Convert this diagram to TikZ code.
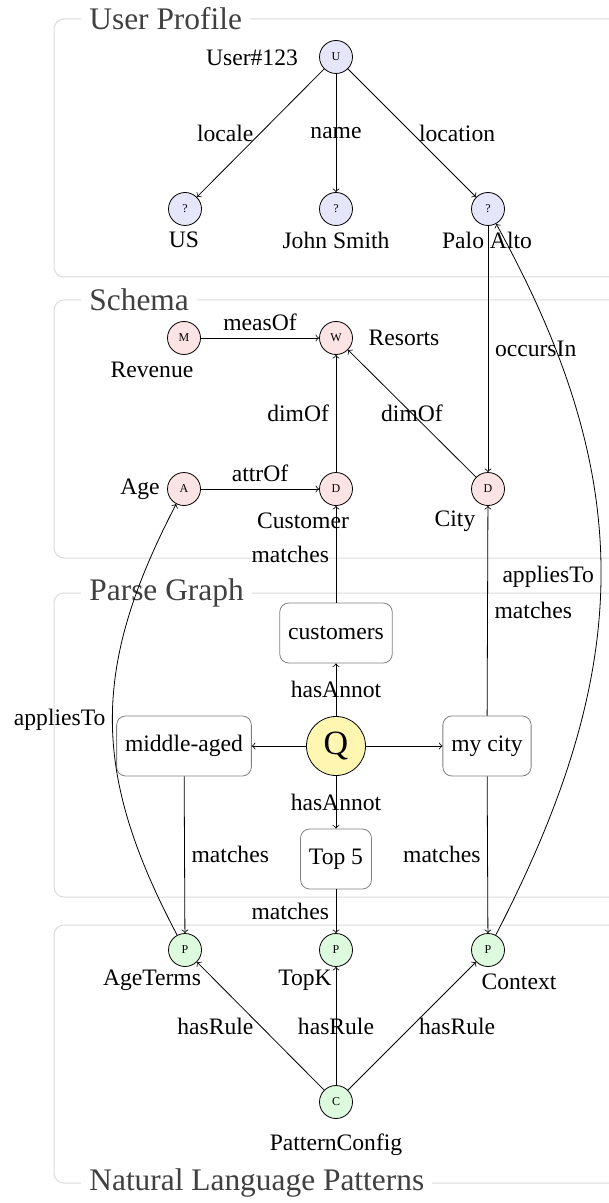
\documentclass[tikz,border=0pt]{standalone}
\usepackage{fontspec}
\setmainfont{Liberation Serif}
\definecolor{userfill}{RGB}{230,230,250}
\definecolor{schemafill}{RGB}{253,228,228}
\definecolor{patfill}{RGB}{222,250,222}
\definecolor{queryfill}{RGB}{255,246,178}
\definecolor{framegray}{RGB}{218,218,218}
\definecolor{titlegray}{RGB}{64,64,64}
\definecolor{boxgray}{RGB}{128,128,128}

\begin{document}
\begin{tikzpicture}[x=0.5pt,y=-0.5pt,
        font=\fontsize{11.8}{14}\selectfont,
        ent/.style={circle,draw,inner sep=0pt,minimum size=16.5pt,font=\fontsize{6}{7}\selectfont},
        usr/.style={ent,fill=userfill},
        sch/.style={ent,fill=schemafill},
        pat/.style={ent,fill=patfill},
        qry/.style={circle,draw,fill=queryfill,inner sep=0pt,minimum size=29.5pt,font=\fontsize{17}{20}\selectfont},
        tok/.style={draw=boxgray,rounded corners=4.5pt,inner xsep=4.2pt,minimum height=30pt},
        frame/.style={draw=framegray,line width=0.5pt,rounded corners=5pt},
        title/.style={fill=white,text=titlegray,anchor=west,inner xsep=4pt,font=\fontsize{15.7}{18}\selectfont},
        lbl/.style={inner sep=0pt}]
                \useasboundingbox (0,0) rectangle (609,1203);
                \draw[frame] (54,19) rectangle (660,277);
                \draw[frame] (54,300) rectangle (660,558);
                \draw[frame] (54,593) rectangle (660,897);
                \draw[frame] (54,925) rectangle (660,1183);
                \node[title] (tUser) at (81,19) {User Profile};
                \node[title] (tSchema) at (81,300) {Schema};
                \node[title] (tParse) at (81,593) {Parse Graph};
                \node[title] (tNLP) at (81,1183) {Natural Language Patterns};
                \node[usr] (U) at (336,57) {U};
                \node[usr] (q1) at (185,209) {?};
                \node[usr] (q2) at (336,209) {?};
                \node[usr] (q3) at (488,209) {?};
                \node[sch] (M) at (184,338) {M};
                \node[sch] (W) at (336,338) {W};
                \node[sch] (A) at (184,489) {A};
                \node[sch] (Dc) at (336,489) {D};
                \node[sch] (Dy) at (488,489) {D};
                \node[tok] (cust) at (336,633) {customers};
                \node[qry] (Q) at (336,746) {Q};
                \node[tok] (mid) at (184,746) {middle-aged};
                \node[tok] (city) at (487,746) {my city};
                \node[tok] (top) at (336,859) {Top 5};
                \node[pat] (p1) at (185,950) {P};
                \node[pat] (p2) at (336,950) {P};
                \node[pat] (p3) at (488,950) {P};
                \node[pat] (C) at (336,1102) {C};
                \node[lbl] (lUser) at (252,58) {User\#123};
                \node[lbl] (lUS) at (184,240) {US};
                \node[lbl] (lName) at (336,240) {John Smith};
                \node[lbl] (lPalo) at (487,240) {Palo Alto};
                \node[lbl] (lRev) at (152,370) {Revenue};
                \node[lbl] (lRes) at (404,338) {Resorts};
                \node[lbl] (lAge) at (140,489) {Age};
                \node[lbl] (lCust) at (303,521) {Customer};
                \node[lbl] (lCity) at (455,521) {City};
                \node[lbl] (lAgeT) at (152,980) {AgeTerms};
                \node[lbl] (lTopK) at (305,980) {TopK};
                \node[lbl] (lCtx) at (519,982) {Context};
                \node[lbl] (lConf) at (336,1145) {PatternConfig};
                \draw[->] (U) -- node[left] (eLocale) {locale} (q1);
                \draw[->] (U) -- node (eName) {name} (q2);
                \draw[->] (U) -- node[right] (eLoc) {location} (q3);
                \draw[->] (M) -- node[above] (eMeas) {measOf} (W);
                \draw[->] (A) -- node[above] (eAttr) {attrOf} (Dc);
                \draw[->] (Dc) -- node[left] (eDim1) {dimOf} (W);
                \draw[->] (Dy) -- node (eDim2) {dimOf} (W);
                \draw[->] (q3) -- node[right] (eOcc) {occursIn} (Dy);
                \draw[->] (cust) -- node[left] (eM1) {matches} (Dc);
                \draw[->] (city) -- node[right] (eM2) {matches} (Dy);
                \draw[->] (Q) -- node (eAnn1) {hasAnnot} (cust);
                \draw[->] (Q) -- node (eAnn2) {hasAnnot} (top);
                \draw[->] (Q) -- (mid);
                \draw[->] (Q) -- (city);
                \draw[->] (mid) -- node[right] (eM3) {matches} (p1);
                \draw[->] (top) -- node[left] (eM4) {matches} (p2);
                \draw[->] (city) -- node[left] (eM5) {matches} (p3);
                \draw[->] (C) -- node[left] (eR1) {hasRule} (p1);
                \draw[->] (C) -- node (eR2) {hasRule} (p2);
                \draw[->] (C) -- node[right] (eR3) {hasRule} (p3);
                \draw[->] (p1) .. controls (91,772) and (91,668) .. node[left] (eApp1) {appliesTo} (A);
                \draw[->] (p3) .. controls (636,664) and (636,478) .. node[left,yshift=-2pt] (eApp2) {appliesTo} (q3);
\end{tikzpicture}
\end{document}
